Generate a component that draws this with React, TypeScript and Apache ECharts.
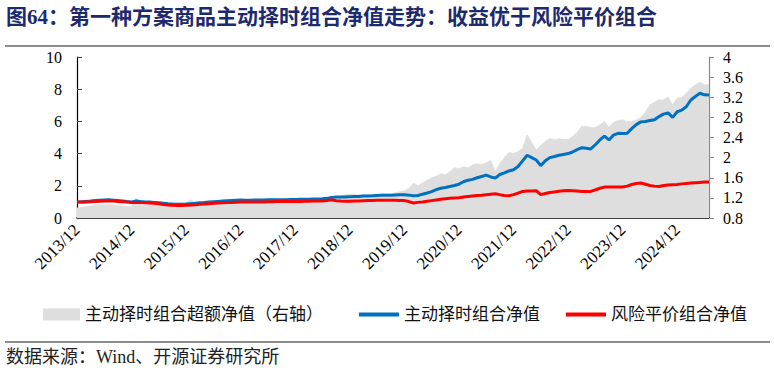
import React, { useEffect, useRef } from "react";
import * as echarts from "echarts";

// ---------- data ----------
const startYear = 2013;
const startMonth = 12;
const monthCount = 140; // 2013/12 .. 2025/07
const categories: string[] = [];
for (let i = 0; i < monthCount; i++) {
  const m0 = startMonth - 1 + i;
  const y = startYear + Math.floor(m0 / 12);
  const m = (m0 % 12) + 1;
  categories.push(`${y}/${m}`);
}

const timingNav = [
  1.00, 1.01, 1.03, 1.05, 1.08, 1.10, 1.12, 1.13, 1.11, 1.08, 1.05, 1.02,
  1.00, 1.05, 1.02, 1.00, 0.99, 0.97, 0.95, 0.92, 0.89, 0.87, 0.86, 0.86,
  0.87, 0.89, 0.91, 0.94, 0.96, 0.99, 1.01, 1.03, 1.05, 1.07, 1.09, 1.11,
  1.12, 1.11, 1.11, 1.12, 1.12, 1.12, 1.13, 1.13, 1.14, 1.14, 1.14, 1.15,
  1.15, 1.16, 1.16, 1.17, 1.18, 1.18, 1.19, 1.22, 1.28, 1.30, 1.30, 1.31,
  1.32, 1.33, 1.34, 1.36, 1.37, 1.38, 1.40, 1.41, 1.42, 1.42, 1.43, 1.44,
  1.45, 1.42, 1.38, 1.40, 1.48, 1.55, 1.64, 1.76, 1.85, 1.90, 1.96, 2.02,
  2.10, 2.25, 2.35, 2.40, 2.50, 2.58, 2.66, 2.55, 2.48, 2.70, 2.80, 2.92,
  3.00, 3.20, 3.55, 3.90, 3.75, 3.60, 3.25, 3.55, 3.75, 3.82, 3.90, 3.95,
  4.00, 4.10, 4.25, 4.37, 4.33, 4.29, 4.55, 4.85, 5.09, 4.85, 5.15, 5.26,
  5.25, 5.26, 5.55, 5.80, 5.97, 6.00, 6.05, 6.10, 6.30, 6.45, 6.53, 6.25,
  6.60, 6.70, 6.91, 7.33, 7.55, 7.75, 7.65, 7.64,
];

const riskParityNav = [
  1.00, 1.00, 1.00, 1.01, 1.02, 1.04, 1.06, 1.06, 1.05, 1.03, 1.01, 0.99,
  0.97, 0.97, 0.96, 0.95, 0.93, 0.91, 0.88, 0.84, 0.81, 0.79, 0.78, 0.78,
  0.79, 0.81, 0.83, 0.85, 0.87, 0.89, 0.91, 0.93, 0.95, 0.96, 0.97, 0.98,
  0.99, 0.99, 0.99, 1.00, 1.00, 1.00, 1.01, 1.01, 1.02, 1.02, 1.02, 1.03,
  1.03, 1.03, 1.04, 1.04, 1.05, 1.05, 1.06, 1.09, 1.13, 1.07, 1.05, 1.04,
  1.04, 1.05, 1.06, 1.07, 1.08, 1.09, 1.10, 1.10, 1.11, 1.11, 1.10, 1.09,
  1.08, 1.02, 0.93, 0.97, 1.00, 1.04, 1.08, 1.12, 1.16, 1.19, 1.22, 1.24,
  1.26, 1.30, 1.34, 1.37, 1.40, 1.42, 1.45, 1.48, 1.51, 1.45, 1.40, 1.38,
  1.45, 1.55, 1.65, 1.67, 1.68, 1.70, 1.45, 1.52, 1.58, 1.62, 1.66, 1.69,
  1.71, 1.69, 1.67, 1.65, 1.65, 1.65, 1.75, 1.85, 1.92, 1.93, 1.92, 1.93,
  1.93, 1.98, 2.08, 2.14, 2.17, 2.10, 2.02, 1.98, 1.96, 2.02, 2.05, 2.07,
  2.08, 2.12, 2.15, 2.17, 2.19, 2.21, 2.23, 2.24,
];

const excessNav = [
  1.00, 1.01, 1.03, 1.04, 1.06, 1.06, 1.06, 1.07, 1.06, 1.05, 1.04, 1.03,
  1.03, 1.20, 1.06, 1.05, 1.06, 1.07, 1.08, 1.10, 1.10, 1.10, 1.10, 1.10,
  1.10, 1.16, 1.10, 1.11, 1.10, 1.11, 1.11, 1.11, 1.11, 1.11, 1.12, 1.13,
  1.13, 1.12, 1.12, 1.12, 1.12, 1.12, 1.12, 1.12, 1.12, 1.12, 1.12, 1.12,
  1.12, 1.13, 1.12, 1.13, 1.12, 1.12, 1.12, 1.12, 1.14, 1.21, 1.24, 1.26,
  1.27, 1.27, 1.26, 1.27, 1.27, 1.27, 1.27, 1.28, 1.28, 1.28, 1.30, 1.32,
  1.34, 1.39, 1.49, 1.44, 1.50, 1.55, 1.60, 1.63, 1.68, 1.66, 1.72, 1.80,
  1.78, 1.82, 1.80, 1.85, 1.88, 1.86, 1.90, 1.95, 1.72, 1.88, 2.00, 2.10,
  2.08, 2.12, 2.18, 2.45, 2.30, 2.15, 2.24, 2.32, 2.38, 2.36, 2.37, 2.36,
  2.36, 2.42, 2.50, 2.62, 2.62, 2.60, 2.60, 2.65, 2.72, 2.60, 2.70, 2.74,
  2.75, 2.72, 2.72, 2.75, 2.80, 2.90, 3.05, 3.10, 3.15, 3.15, 3.20, 3.05,
  3.18, 3.20, 3.28, 3.38, 3.45, 3.50, 3.45, 3.45,
];

const leftTicks = { min: 0, max: 10, interval: 2 };
const rightTicks = { min: 0.8, max: 4, interval: 0.4 };

const titleText = "图64：第一种方案商品主动择时组合净值走势：收益优于风险平价组合";
const sourceText = "数据来源：Wind、开源证券研究所";
const nameExcess = "主动择时组合超额净值（右轴）";
const nameTiming = "主动择时组合净值";
const nameRisk = "风险平价组合净值";

const FONT = '"Liberation Serif", "Noto Sans CJK SC", serif';

export default function App() {
  const ref = useRef<HTMLDivElement>(null);
  useEffect(() => {
    if (!ref.current) return;
    const chart = echarts.init(ref.current, undefined, { renderer: "svg" });
    const showEvery12 = (i: number) => i % 12 === 0;
    const legendText = { fontSize: 17, color: "#111", fontFamily: FONT };
    chart.setOption({
      animation: false,
      backgroundColor: "#ffffff",
      textStyle: { fontFamily: FONT },
      grid: { left: 77, right: 65, top: 57, bottom: 155, containLabel: false },
      graphic: [
        {
          type: "text",
          left: 6,
          top: 6,
          style: {
            text: titleText,
            font: 'bold 21px "Liberation Serif", "Noto Sans CJK SC"',
            fill: "#1d2a6e",
          },
        },
        {
          type: "line",
          shape: { x1: 5, y1: 46, x2: 770, y2: 46 },
          style: { stroke: "#8c8c8c", lineWidth: 2 },
        },
        {
          type: "line",
          shape: { x1: 5, y1: 342, x2: 770, y2: 342 },
          style: { stroke: "#8c8c8c", lineWidth: 2 },
        },
        {
          type: "text",
          left: 6,
          top: 348,
          style: {
            text: sourceText,
            font: '18px "Liberation Serif", "Noto Sans CJK SC"',
            fill: "#222",
          },
        },
      ],
      legend: [
        {
          left: 38,
          top: 301,
          itemWidth: 37,
          itemHeight: 12,
          data: [{ name: nameExcess, icon: "rect" }],
          textStyle: legendText,
        },
        {
          left: 354,
          top: 301,
          itemWidth: 40,
          itemHeight: 4,
          data: [{ name: nameTiming, icon: "rect" }],
          textStyle: legendText,
        },
        {
          left: 561,
          top: 301,
          itemWidth: 40,
          itemHeight: 4,
          data: [{ name: nameRisk, icon: "rect" }],
          textStyle: legendText,
        },
      ],
      xAxis: {
        type: "category",
        data: categories,
        boundaryGap: false,
        axisLine: { lineStyle: { color: "#000", width: 1.5 } },
        axisTick: { inside: true, length: 5, interval: showEvery12, lineStyle: { color: "#444" } },
        axisLabel: {
          interval: showEvery12,
          rotate: 45,
          fontSize: 17,
          color: "#000",
          fontFamily: FONT,
          margin: 9,
        },
        splitLine: { show: false },
      },
      yAxis: [
        {
          type: "value",
          min: leftTicks.min,
          max: leftTicks.max,
          interval: leftTicks.interval,
          axisLine: { show: true, lineStyle: { color: "#000", width: 1.2 } },
          axisTick: { show: true, inside: true, length: 5, lineStyle: { color: "#444" } },
          axisLabel: { fontSize: 16, color: "#000", fontFamily: FONT, margin: 15 },
          splitLine: { show: false },
        },
        {
          type: "value",
          position: "right",
          min: rightTicks.min,
          max: rightTicks.max,
          interval: rightTicks.interval,
          axisLine: { show: true, lineStyle: { color: "#8a8a8a", width: 1.2 } },
          axisTick: { show: true, inside: false, length: 5, lineStyle: { color: "#8a8a8a" } },
          axisLabel: {
            fontSize: 16,
            color: "#000",
            fontFamily: FONT,
            margin: 14,
            formatter: (v: number) => String(Math.round(v * 10) / 10),
          },
          splitLine: { show: false },
        },
      ],
      series: [
        {
          name: nameExcess,
          type: "line",
          yAxisIndex: 1,
          data: excessNav,
          symbol: "none",
          itemStyle: { color: "#dedede" },
          lineStyle: { width: 0.8, color: "#dedede" },
          areaStyle: { color: "#dedede", opacity: 1, origin: "start" },
          z: 1,
        },
        {
          name: nameTiming,
          type: "line",
          yAxisIndex: 0,
          data: timingNav,
          symbol: "none",
          itemStyle: { color: "#0070c0" },
          lineStyle: { width: 3, color: "#0070c0" },
          z: 2,
        },
        {
          name: nameRisk,
          type: "line",
          yAxisIndex: 0,
          data: riskParityNav,
          symbol: "none",
          itemStyle: { color: "#ff0000" },
          lineStyle: { width: 3, color: "#ff0000" },
          z: 3,
        },
      ],
    });
    return () => chart.dispose();
  }, []);
  return (
    <div
      ref={ref}
      style={{ position: "fixed", left: 0, top: 0, width: 774, height: 373, background: "#fff" }}
    />
  );
}
